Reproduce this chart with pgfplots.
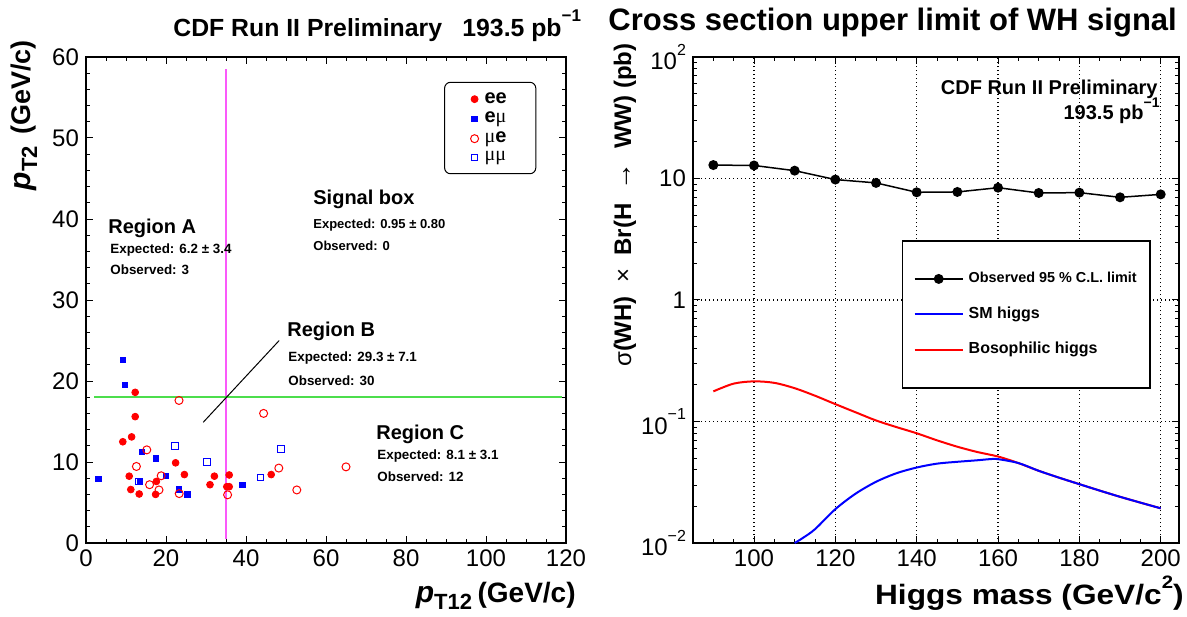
\documentclass[border=0pt]{standalone}
\usepackage{pgfplots}
\pgfplotsset{compat=1.18}
\usepackage{fontspec}
\setmainfont{Liberation Sans}
\newfontfamily\grk{Liberation Serif}
\newcommand\fs[1]{\fontsize{#1}{#1}\selectfont}
\definecolor{rootred}{rgb}{1,0,0}
\definecolor{rootblue}{rgb}{0,0,1}
\definecolor{rootmag}{rgb}{0.98,0.35,0.98}
\definecolor{rootgreen}{rgb}{0.3,0.87,0.3}
\pgfplotsset{rootstyle/.style={
  scale only axis, anchor=south west,
  axis line style={line width=1pt},
  every tick/.append style={line width=0.5pt, black},
  major tick length=3.5pt, minor tick length=2pt,
  tick align=inside, xtick pos=both, ytick pos=both,
  tick label style={font=\fs{12pt}},
  /pgf/number format/assume math mode=true,
}}
\tikzset{txt/.style={anchor=base west, inner sep=0pt}}
\begin{document}
\begin{tikzpicture}[x=0.5pt,y=0.5pt]
\useasboundingbox (0,0) rectangle (1187,616);
% ---------------- left panel ----------------
\begin{axis}[rootstyle, at={(43pt,36.5pt)}, width=240pt, height=243pt,
  xmin=0, xmax=120, ymin=0, ymax=60,
  xtick={0,20,...,120}, ytick={0,10,...,60},
  minor x tick num=3, minor y tick num=4,
  legend style={at={(0.746,0.949)}, anchor=north west, draw=black, line width=0.5pt,
    rounded corners=3pt, font=\fs{10pt}\bfseries, inner xsep=13pt, inner ysep=3.5pt,
    row sep=0pt, column sep=1.5pt, nodes={inner sep=1.5pt}},
  legend cell align=left,
  legend image code/.code={\draw[#1] plot coordinates {(0pt,0pt)};},
]
\addplot[rootmag, line width=0.75pt, forget plot] coordinates {(35,0.5) (35,58.5)};
\addplot[rootgreen, line width=0.75pt, forget plot] coordinates {(2,18) (119,18)};
\addplot[black, line width=0.5pt, forget plot] coordinates {(29.3,14.9) (48.3,25)};
\addplot[only marks, mark=*, mark size=1.7pt, rootred] coordinates {
 (12.3,18.6) (12.3,15.6) (9.2,12.5) (11.4,13.1) (22.4,9.9) (10.8,8.25) (17.6,7.6)
 (24.6,8.45) (11.2,6.6) (13.3,6.05) (17.4,6.0) (32.1,8.25) (31.0,7.2) (35.8,8.4)
 (35.2,6.95) (35.8,6.95) (46.3,8.45)};
\addlegendentry{ee}
\addplot[only marks, mark=square*, mark size=1.35pt, rootblue] coordinates {
 (9.2,22.6) (9.75,19.5) (14.0,11.25) (17.5,10.45) (20.0,8.25) (13.5,7.55)
 (23.2,6.6) (25.3,6.0) (3.1,7.9) (39.1,7.2)};
\addlegendentry{e{\grk\mdseries μ}}
\addplot[only marks, mark=o, mark size=2pt, rootred, mark options={line width=0.5pt}] coordinates {
 (23.25,17.6) (44.4,16.0) (15.2,11.5) (12.6,9.45) (18.8,8.3) (15.9,7.2) (18.25,6.55)
 (23.3,6.1) (35.4,5.95) (48.2,9.25) (52.7,6.55) (65.0,9.4)};
\addlegendentry{{\grk\mdseries μ}e}
\addplot[only marks, mark=square, mark size=1.65pt, rootblue, mark options={line width=0.5pt}] coordinates {
 (22.25,12.0) (30.3,10.0) (43.6,8.1) (48.7,11.6) (13.3,7.6)};
\addlegendentry{{\grk\mdseries μμ}}
\node[txt, font=\fs{10pt}\bfseries] at (axis cs:5.5,38.2) {Region A};
\node[txt, font=\fs{6.7pt}\bfseries] at (axis cs:6,35.7) {Expected: 6.2 ± 3.4};
\node[txt, font=\fs{6.7pt}\bfseries] at (axis cs:6,33.2) {Observed: 3};
\node[txt, font=\fs{10pt}\bfseries] at (axis cs:56.75,41.8) {Signal box};
\node[txt, font=\fs{6.5pt}\bfseries] at (axis cs:56.75,38.8) {Expected: 0.95 ± 0.80};
\node[txt, font=\fs{6.5pt}\bfseries] at (axis cs:56.75,36.05) {Observed: 0};
\node[txt, font=\fs{10pt}\bfseries] at (axis cs:50.25,25.5) {Region B};
\node[txt, font=\fs{6.7pt}\bfseries] at (axis cs:50.5,22.45) {Expected: 29.3 ± 7.1};
\node[txt, font=\fs{6.7pt}\bfseries] at (axis cs:50.5,19.47) {Observed: 30};
\node[txt, font=\fs{10pt}\bfseries] at (axis cs:72.5,12.75) {Region C};
\node[txt, font=\fs{6.7pt}\bfseries] at (axis cs:72.75,10.3) {Expected: 8.1 ± 3.1};
\node[txt, font=\fs{6.7pt}\bfseries] at (axis cs:72.75,7.6) {Observed: 12};
\end{axis}
% ---------------- right panel ----------------
\begin{axis}[rootstyle, at={(346.5pt,36.5pt)}, width=243pt, height=243pt,
  xmin=85, xmax=204.5, ymode=log, ymin=0.01, ymax=100,
  xtick={100,120,...,200}, minor xtick={85,90,...,200},
  ytick={0.01,0.1,1,10,100},
  minor ytick={0.02,0.03,0.04,0.05,0.06,0.07,0.08,0.09,0.2,0.3,0.4,0.5,0.6,0.7,0.8,0.9,2,3,4,5,6,7,8,9,20,30,40,50,60,70,80,90},
  yticklabels={10\raisebox{0.6em}{\fs{8pt}−2},10\raisebox{0.6em}{\fs{8pt}−1},1,10,10\raisebox{0.6em}{\fs{8pt}2}},
  xmajorgrids, ymajorgrids,
  major grid style={black, line width=0.6pt, dash pattern=on 0.6pt off 1.4pt},
  legend style={at={(0.43,0.6225)}, anchor=north west, draw=black, line width=0.75pt,
    fill=white, font=\fs{8pt}\bfseries, inner xsep=5.5pt, inner ysep=14.5pt,
    row sep=8.5pt, column sep=1.5pt, nodes={inner sep=1pt}},
  legend cell align=left,
  legend image code/.code={\draw[mark repeat=2, mark phase=2, #1] plot coordinates {(0pt,0pt) (12pt,0pt) (24pt,0pt)};},
]
\addplot[black, line width=0.75pt, mark=*, mark size=2.1pt] coordinates {
 (90,12.9) (100,12.8) (110,11.6) (120,9.8) (130,9.2) (140,7.7) (150,7.75)
 (160,8.4) (170,7.6) (180,7.65) (190,7.0) (200,7.4)};
\addlegendentry{\fs{7.2pt}Observed 95 \% C.L. limit}
\addlegendimage{rootblue, line width=1pt}
\addlegendentry{SM higgs}
\addlegendimage{rootred, line width=1pt}
\addlegendentry{Bosophilic higgs}
\addplot[rootred, line width=1pt, smooth, forget plot] coordinates {
 (90,0.177) (95,0.205) (100,0.214) (105,0.208) (110,0.188) (115,0.163) (120,0.139)
 (125,0.119) (130,0.102) (135,0.090) (140,0.080) (145,0.070) (150,0.062) (155,0.056)
 (160,0.0515) (165,0.0455) (170,0.0393) (175,0.0345) (180,0.0305) (185,0.027)
 (190,0.0240) (195,0.0215) (200,0.0193)};
\addplot[rootblue, line width=1pt, smooth, forget plot] coordinates {
 (110,0.0100) (112,0.0110) (115,0.0130) (120,0.0190) (125,0.0255) (130,0.0319)
 (135,0.0375) (140,0.0418) (145,0.0450) (150,0.0466) (155,0.0480) (158,0.0490)
 (160,0.0490) (165,0.0455) (170,0.0393) (175,0.0345) (180,0.0305) (185,0.027)
 (190,0.0240) (195,0.0215) (200,0.0193)};
\end{axis}
% ---------------- titles and axis labels ----------------
\node[txt, font=\fs{12.4pt}\bfseries] at (173,579) {CDF Run II Preliminary};
\node[txt, font=\fs{12.4pt}\bfseries] at (462,579) {193.5 pb\raisebox{0.62em}{\fs{8.5pt}−1}};
\node[txt, font=\fs{15.5pt}\bfseries] at (608,585) {Cross section upper limit of WH signal};
\node[anchor=base east, inner sep=0pt, font=\fs{10pt}\bfseries] at (1158,521) {CDF Run II Preliminary};
\node[anchor=base east, inner sep=0pt, font=\fs{10pt}\bfseries] at (1160,496) {193.5 pb\raisebox{0.6em}{\fs{7pt}−1}};
\node[anchor=base east, inner sep=0pt] at (576,14)
  {{\fs{15pt}\bfseries\itshape p}{\fs{11pt}\bfseries\raisebox{-3.5pt}{T12}}\ {\fs{14pt}\bfseries (GeV/c)}};
\node[anchor=base east, inner sep=0pt] at (1184,12)
  {\scalebox{1.13}[1]{\fs{14pt}\bfseries Higgs mass (GeV/c\raisebox{0.55em}{\fs{9pt}2})}};
\node[anchor=base east, rotate=90, inner sep=0pt] at (30,576)
  {{\fs{15pt}\bfseries\itshape p}{\fs{11pt}\bfseries\raisebox{-3.5pt}{T2}}\ \ {\fs{13.5pt}\bfseries(GeV/c)}};
\node[anchor=base east, rotate=90, inner sep=0pt, font=\fs{12pt}\bfseries] at (631,573)
  {{\mdseries σ}(WH) \ {\mdseries ×} \ Br(H \ {\mdseries\fs{14pt}→} \ WW) (pb)};
\end{tikzpicture}
\end{document}
